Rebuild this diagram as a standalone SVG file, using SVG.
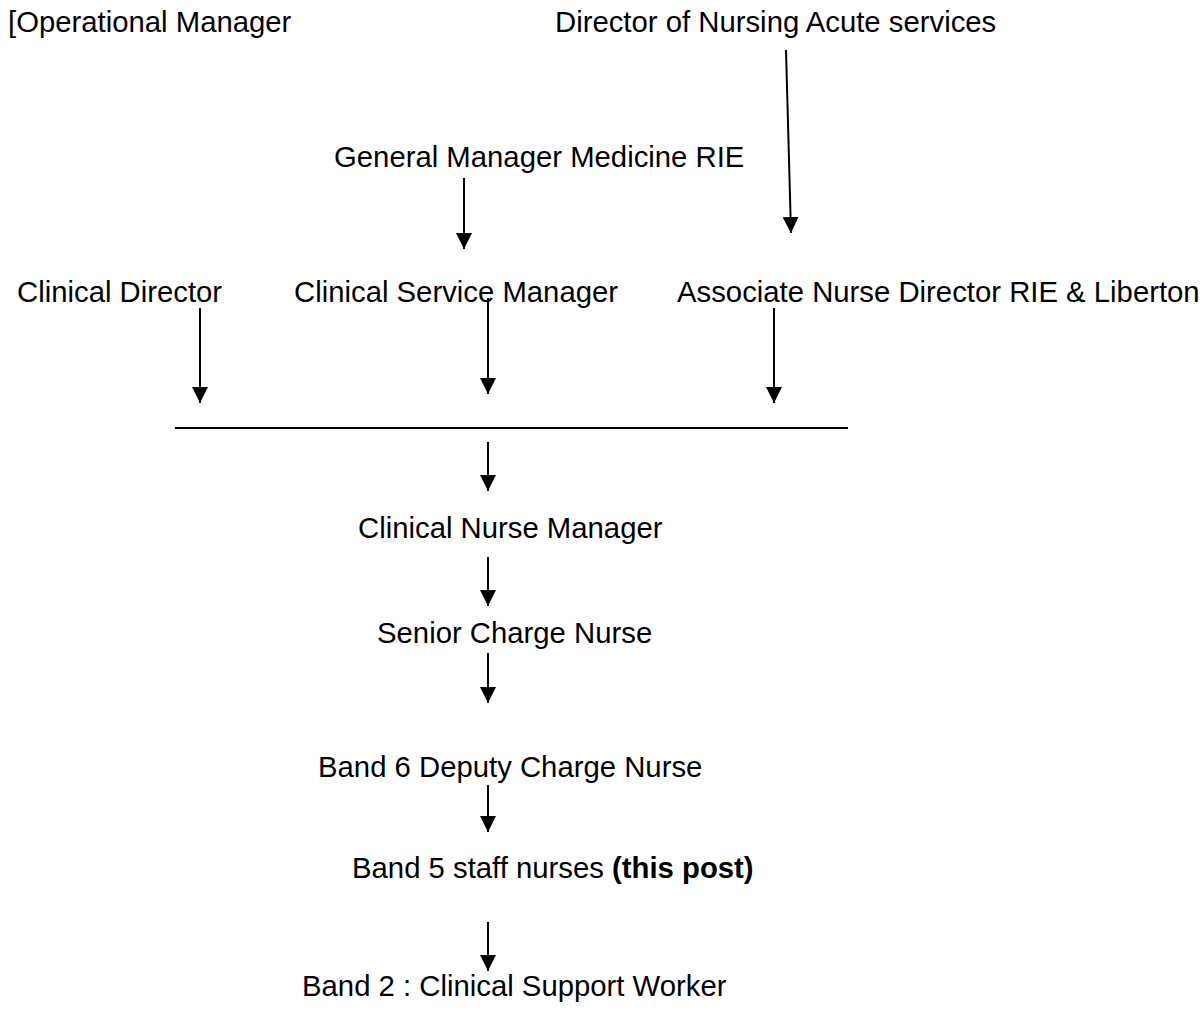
<svg xmlns="http://www.w3.org/2000/svg" width="1203" height="1019" viewBox="0 0 1203 1019">
<style>
text{font-family:"Liberation Sans",Arial,sans-serif;font-size:29.3px;fill:#000}
.c{stroke:#000;stroke-width:2;fill:none}
.b{font-weight:bold}
</style>
<defs>
<marker id="ah" viewBox="0 0 10 10" refX="10" refY="5" markerWidth="8" markerHeight="8" markerUnits="strokeWidth" orient="auto">
<path d="M0,0 L10,5 L0,10 z" fill="#000"/>
</marker>
</defs>
<rect width="1203" height="1019" fill="#fff"/>
<g id="n-op"><text x="8" y="32">[Operational Manager</text></g>
<g id="n-don"><text x="555" y="32">Director of Nursing Acute services</text></g>
<g id="n-gm"><text x="334" y="167">General Manager Medicine RIE</text></g>
<g id="n-cd"><text x="17" y="302">Clinical Director</text></g>
<g id="n-csm"><text x="294" y="302">Clinical Service Manager</text></g>
<g id="n-and"><text x="677" y="302">Associate Nurse Director RIE &amp; Liberton</text></g>
<g id="n-cnm"><text x="358" y="538">Clinical Nurse Manager</text></g>
<g id="n-scn"><text x="377" y="643">Senior Charge Nurse</text></g>
<g id="n-b6"><text x="318" y="777">Band 6 Deputy Charge Nurse</text></g>
<g id="n-b5"><text x="352" y="878">Band 5 staff nurses <tspan class="b">(this post)</tspan></text></g>
<g id="n-b2"><text x="302" y="996">Band 2 : Clinical Support Worker</text></g>
<g id="connectors">
<line class="c" x1="786" y1="50" x2="791" y2="233" marker-end="url(#ah)"/>
<line class="c" x1="464" y1="178" x2="464" y2="249" marker-end="url(#ah)"/>
<line class="c" x1="200" y1="308" x2="200" y2="403" marker-end="url(#ah)"/>
<line class="c" x1="488" y1="298" x2="488" y2="394" marker-end="url(#ah)"/>
<line class="c" x1="774" y1="308" x2="774" y2="403" marker-end="url(#ah)"/>
<line class="c" x1="175" y1="428" x2="848" y2="428"/>
<line class="c" x1="488" y1="442" x2="488" y2="491" marker-end="url(#ah)"/>
<line class="c" x1="488" y1="557" x2="488" y2="606" marker-end="url(#ah)"/>
<line class="c" x1="488" y1="653" x2="488" y2="703" marker-end="url(#ah)"/>
<line class="c" x1="488" y1="785" x2="488" y2="832" marker-end="url(#ah)"/>
<line class="c" x1="488" y1="922" x2="488" y2="971" marker-end="url(#ah)"/>
</g>
</svg>
